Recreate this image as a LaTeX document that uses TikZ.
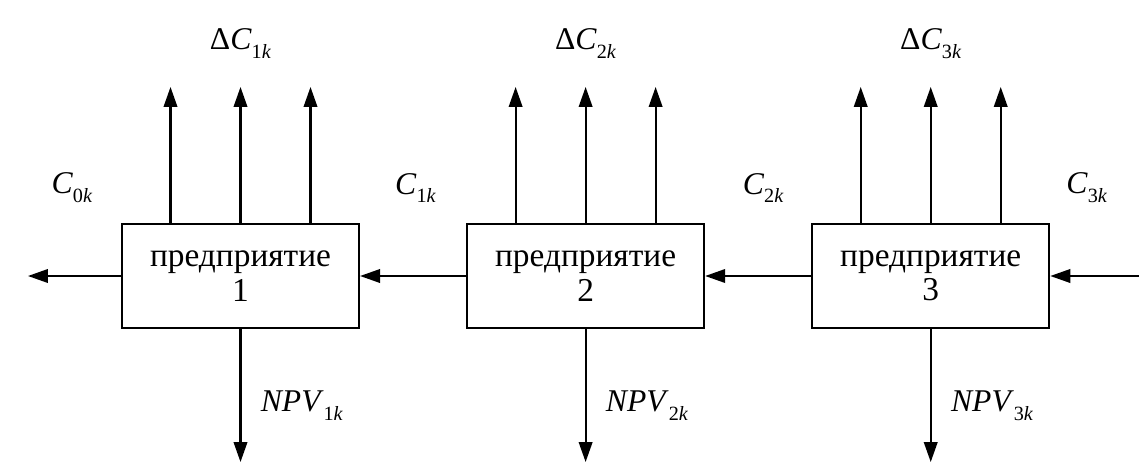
\documentclass[tikz,border=0pt]{standalone}
\usepackage{fontspec}
\setmainfont{Liberation Serif}
\usetikzlibrary{arrows.meta,positioning,calc}
\newcommand{\lbl}[2]{\textit{#1}\raisebox{-0.28em}{\fontsize{11.5}{11.5}\selectfont#2}}

\begin{document}
\begin{tikzpicture}[
  node distance=2.12cm,
  firm/.style={draw,line width=1.2pt,minimum width=4.74cm,minimum height=2.08cm,
    inner sep=0pt,align=center,font=\fontsize{19}{19.5}\selectfont},
  arrow/.style={-{Triangle[length=0.4cm,width=0.27cm]},line width=1.2pt},
  lab/.style={font=\fontsize{18}{20}\selectfont,inner sep=0pt},
]
  \useasboundingbox (0,0) rectangle (22.78,9.4);
  \node[firm] (b1) at (4.81,3.88) {предприятие\\1};
  \node[firm,right=of b1] (b2) {предприятие\\2};
  \node[firm,right=of b2] (b3) {предприятие\\3};
  % flows between the firms
  \coordinate (out) at ([xshift=-1.86cm]b1.west);
  \coordinate (in) at ([xshift=1.86cm]b3.east);
  \draw[arrow] (b1.west) -- (out);
  \draw[arrow] (b2.west) -- (b1.east);
  \draw[arrow] (b3.west) -- (b2.east);
  \draw[arrow] (in) -- (b3.east);
  \node[lab] (c0) at ($(out)!0.5!(b1.west)+(-0.05,1.76)$) {\lbl{C}{0\textit{k}}};
  \node[lab] (c1) at ($(b1.east)!0.5!(b2.west)+(0.05,1.76)$) {\lbl{C}{1\textit{k}}};
  \node[lab] (c2) at ($(b2.east)!0.5!(b3.west)+(0.1,1.76)$) {\lbl{C}{2\textit{k}}};
  \node[lab] (c3) at ($(b3.east)!0.5!(in)+(-0.2,1.76)$) {\lbl{C}{3\textit{k}}};
  % outputs of each firm
  \foreach \i in {1,2,3} {
    \foreach \dx [count=\j] in {-1.4,0,1.4} {
      \coordinate (u\i\j) at ([xshift=\dx cm,yshift=2.72cm]b\i.north);
      \draw[arrow] (u\i\j |- b\i.north) -- (u\i\j);
    }
    \coordinate (d\i) at ([yshift=-2.66cm]b\i.south);
    \draw[arrow] (b\i.south) -- (d\i);
    \node[lab] (dc\i) at ([yshift=0.86cm]u\i2) {Δ\lbl{C}{\i\textit{k}}};
    \node[lab,anchor=west] (npv\i) at ([xshift=0.4cm,yshift=1.12cm]d\i)
      {\lbl{NPV}{\i\textit{k}}};
  }
\end{tikzpicture}
\end{document}
